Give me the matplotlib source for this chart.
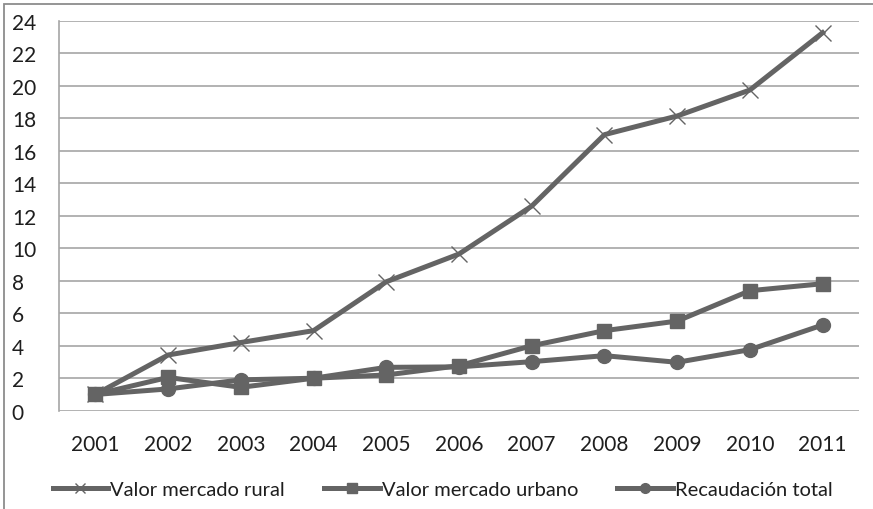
import matplotlib.pyplot as plt
from matplotlib.lines import Line2D
from matplotlib.patches import Rectangle

# datos
anios = ['2001', '2002', '2003', '2004', '2005', '2006', '2007', '2008', '2009', '2010', '2011']
rural = [1.0, 3.43, 4.2, 4.93, 7.94, 9.65, 12.6, 17.0, 18.15, 19.75, 23.28]
urbano = [1.0, 2.05, 1.44, 2.0, 2.2, 2.77, 4.0, 4.93, 5.52, 7.39, 7.82]
recaudacion = [1.0, 1.34, 1.9, 2.0, 2.67, 2.7, 3.02, 3.39, 2.98, 3.76, 5.28]
nombres = ['Valor mercado rural', 'Valor mercado urbano', 'Recaudación total']
y_ticks = list(range(0, 25, 2))

plt.rcParams['font.family'] = ['Lato', 'DejaVu Sans']
gris = '#646464'

fig = plt.figure(figsize=(8.73, 5.10), dpi=100)
ax = fig.add_axes([59 / 873, 1 - 411.7 / 510, 800 / 873, (411.7 - 22) / 510])

# borde exterior del area del grafico (recortado a la derecha y abajo)
fig.patches.append(Rectangle((4 / 873, -0.2), 1.2, 1.2 - 5 / 510, transform=fig.transFigure,
                             fill=False, edgecolor='#8c8c8c', linewidth=1.3))

x = range(len(anios))
ax.plot(x, rural, color=gris, lw=3.6, marker='x', ms=11, mew=1.0, mec=gris, zorder=3)
ax.plot(x, urbano, color=gris, lw=3.6, marker='s', ms=10, mec=gris, zorder=4)
ax.plot(x, recaudacion, color=gris, lw=3.6, marker='o', ms=10, mec=gris, zorder=5)

ax.set_xlim(-0.5, len(anios) - 0.5)
ax.set_ylim(0, 24)
ax.set_yticks(y_ticks)
ax.set_xticks(list(x))
ax.set_xticklabels(anios)
ax.yaxis.grid(True, color='#a6a6a6', linewidth=1.2)
ax.set_axisbelow(True)
for s in ['top', 'right', 'bottom']:
    ax.spines[s].set_visible(False)
ax.spines['left'].set_color('#a6a6a6')
ax.spines['left'].set_linewidth(1.2)
ax.tick_params(axis='both', length=0, labelsize=15, labelcolor='#1e1e1e')
ax.tick_params(axis='x', pad=17)
ax.tick_params(axis='y', pad=34)
for lab in ax.get_yticklabels():
    lab.set_horizontalalignment('left')

handles = [
    Line2D([], [], color=gris, lw=3.6, marker='x', ms=7, mew=1.0),
    Line2D([], [], color=gris, lw=3.6, marker='s', ms=7),
    Line2D([], [], color=gris, lw=3.6, marker='o', ms=7),
]
fig.legend(handles, nombres, loc='center', bbox_to_anchor=(0.507, 1 - 490 / 510), ncol=3,
           frameon=False, fontsize=14.5, handlelength=2.75, handletextpad=0.1,
           columnspacing=1.95, labelcolor='#1e1e1e')

fig.savefig('out.png', dpi=100)
